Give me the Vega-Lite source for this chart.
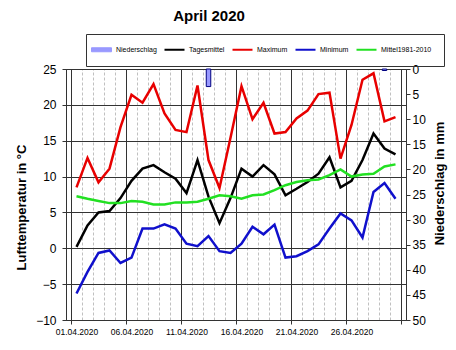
{
  "$schema": "https://vega.github.io/schema/vega-lite/v6.json",
  "width": 340,
  "height": 251,
  "autosize": {"type": "none"},
  "padding": {"left": 66, "top": 69, "right": 50, "bottom": 30},
  "background": "white",
  "title": {
    "text": "April 2020",
    "fontSize": 15,
    "fontWeight": "bold",
    "font": "Liberation Sans",
    "color": "black",
    "anchor": "middle",
    "frame": "group",
    "dx": -27,
    "dy": -6
  },
  "data": {
    "values": [
      {"d": 1, "Niederschlag": 0, "Tagesmittel": 0.2, "Maximum": 8.5, "Minimum": -6.3, "Mittel1981-2010": 7.25},
      {"d": 2, "Niederschlag": 0, "Tagesmittel": 3.2, "Maximum": 12.6, "Minimum": -3.3, "Mittel1981-2010": 6.9},
      {"d": 3, "Niederschlag": 0, "Tagesmittel": 5.0, "Maximum": 9.2, "Minimum": -0.65, "Mittel1981-2010": 6.6},
      {"d": 4, "Niederschlag": 0, "Tagesmittel": 5.2, "Maximum": 11.1, "Minimum": -0.3, "Mittel1981-2010": 6.3},
      {"d": 5, "Niederschlag": 0, "Tagesmittel": 7.0, "Maximum": 16.9, "Minimum": -2.05, "Mittel1981-2010": 6.3},
      {"d": 6, "Niederschlag": 0, "Tagesmittel": 9.4, "Maximum": 21.4, "Minimum": -1.3, "Mittel1981-2010": 6.6},
      {"d": 7, "Niederschlag": 0, "Tagesmittel": 11.1, "Maximum": 20.3, "Minimum": 2.75, "Mittel1981-2010": 6.5},
      {"d": 8, "Niederschlag": 0, "Tagesmittel": 11.6, "Maximum": 22.9, "Minimum": 2.75, "Mittel1981-2010": 6.1},
      {"d": 9, "Niederschlag": 0, "Tagesmittel": 10.6, "Maximum": 18.8, "Minimum": 3.35, "Mittel1981-2010": 6.1},
      {"d": 10, "Niederschlag": 0, "Tagesmittel": 9.7, "Maximum": 16.5, "Minimum": 2.75, "Mittel1981-2010": 6.4},
      {"d": 11, "Niederschlag": 0, "Tagesmittel": 7.7, "Maximum": 16.2, "Minimum": 0.65, "Mittel1981-2010": 6.4},
      {"d": 12, "Niederschlag": 0, "Tagesmittel": 12.3, "Maximum": 22.7, "Minimum": 0.3, "Mittel1981-2010": 6.5},
      {"d": 13, "Niederschlag": 3.5, "Tagesmittel": 7.2, "Maximum": 12.3, "Minimum": 1.7, "Mittel1981-2010": 6.9},
      {"d": 14, "Niederschlag": 0, "Tagesmittel": 3.5, "Maximum": 8.4, "Minimum": -0.4, "Mittel1981-2010": 7.4},
      {"d": 15, "Niederschlag": 0, "Tagesmittel": 7.0, "Maximum": 15.4, "Minimum": -0.65, "Mittel1981-2010": 7.25},
      {"d": 16, "Niederschlag": 0, "Tagesmittel": 11.1, "Maximum": 22.6, "Minimum": 0.65, "Mittel1981-2010": 6.9},
      {"d": 17, "Niederschlag": 0, "Tagesmittel": 10.0, "Maximum": 18.0, "Minimum": 3.0, "Mittel1981-2010": 7.4},
      {"d": 18, "Niederschlag": 0, "Tagesmittel": 11.6, "Maximum": 20.3, "Minimum": 1.95, "Mittel1981-2010": 7.5},
      {"d": 19, "Niederschlag": 0, "Tagesmittel": 10.3, "Maximum": 16.0, "Minimum": 3.3, "Mittel1981-2010": 8.1},
      {"d": 20, "Niederschlag": 0, "Tagesmittel": 7.4, "Maximum": 16.2, "Minimum": -1.3, "Mittel1981-2010": 8.8},
      {"d": 21, "Niederschlag": 0, "Tagesmittel": 8.3, "Maximum": 18.1, "Minimum": -1.1, "Mittel1981-2010": 9.25},
      {"d": 22, "Niederschlag": 0, "Tagesmittel": 9.25, "Maximum": 19.2, "Minimum": -0.4, "Mittel1981-2010": 9.5},
      {"d": 23, "Niederschlag": 0, "Tagesmittel": 10.4, "Maximum": 21.5, "Minimum": 0.55, "Mittel1981-2010": 9.6},
      {"d": 24, "Niederschlag": 0, "Tagesmittel": 12.7, "Maximum": 21.7, "Minimum": 2.75, "Mittel1981-2010": 10.2},
      {"d": 25, "Niederschlag": 0, "Tagesmittel": 8.5, "Maximum": 12.5, "Minimum": 4.85, "Mittel1981-2010": 11.0},
      {"d": 26, "Niederschlag": 0, "Tagesmittel": 9.4, "Maximum": 17.2, "Minimum": 3.9, "Mittel1981-2010": 10.0},
      {"d": 27, "Niederschlag": 0, "Tagesmittel": 12.3, "Maximum": 23.5, "Minimum": 1.5, "Mittel1981-2010": 10.3},
      {"d": 28, "Niederschlag": 0, "Tagesmittel": 16.0, "Maximum": 24.4, "Minimum": 7.85, "Mittel1981-2010": 10.4},
      {"d": 29, "Niederschlag": 0.3, "Tagesmittel": 13.9, "Maximum": 17.7, "Minimum": 9.1, "Mittel1981-2010": 11.4},
      {"d": 30, "Niederschlag": 0, "Tagesmittel": 13.1, "Maximum": 18.3, "Minimum": 6.9, "Mittel1981-2010": 11.7}
    ]
  },
  "encoding": {
    "x": {
      "field": "d",
      "type": "quantitative",
      "scale": {"domain": [0.5, 30.5], "nice": false, "zero": false},
      "axis": {
        "title": null,
        "values": [0.5, 1, 1.5, 2.5, 3.5, 4.5, 5.5, 6, 6.5, 7.5, 8.5, 9.5, 10.5, 11, 11.5, 12.5, 13.5, 14.5, 15.5, 16, 16.5, 17.5, 18.5, 19.5, 20.5, 21, 21.5, 22.5, 23.5, 24.5, 25.5, 26, 26.5, 27.5, 28.5, 29.5, 30.5],
        "labelExpr": "datum.value % 1 == 0 ? ((datum.value < 10 ? '0' : '') + datum.value + '.04.2020') : ''",
        "labelOverlap": false,
        "labelFontSize": 8.5,
        "labelFont": "Liberation Sans",
        "labelColor": "black",
        "labelPadding": 3,
        "labelFlush": false,
        "grid": true,
        "gridColor": {"condition": {"test": "datum.value % 5 == 0.5", "value": "#333333"}, "value": "#c0c0c0"},
        "gridDash": {"condition": {"test": "datum.value % 5 == 0.5", "value": []}, "value": [3, 2]},
        "gridOpacity": {"condition": {"test": "datum.value % 1 == 0", "value": 0}, "value": 1},
        "tickColor": "#333333",
        "tickOpacity": {"condition": {"test": "datum.value % 5 == 0.5", "value": 1}, "value": 0},
        "tickSize": 4,
        "domainColor": "#333333"
      }
    }
  },
  "layer": [
    {
      "transform": [{"filter": "datum.Niederschlag > 0"}],
      "mark": {"type": "bar", "size": 4.5, "stroke": "#000080", "strokeWidth": 1},
      "encoding": {
        "y": {
          "field": "Niederschlag",
          "type": "quantitative",
          "scale": {"domain": [0, 50], "reverse": true, "nice": false},
          "axis": {
            "orient": "right",
            "values": [0, 5, 10, 15, 20, 25, 30, 35, 40, 45, 50],
            "grid": false,
            "title": "Niederschlag in mm",
            "titleFontSize": 13,
            "titleFont": "Liberation Sans",
            "titleFontWeight": "bold",
            "titleColor": "black",
            "titleAngle": 270,
            "titleAlign": "center",
            "titleBaseline": "middle",
            "titleX": 33,
            "titleY": 114,
            "labelFontSize": 12,
            "labelFont": "Liberation Sans",
            "labelColor": "black",
            "labelPadding": 2,
            "tickSize": 4,
            "tickColor": "#333333",
            "domainColor": "#333333"
          }
        },
        "color": {"datum": "Niederschlag"}
      }
    },
    {
      "transform": [{"fold": ["Tagesmittel", "Maximum", "Minimum", "Mittel1981-2010"], "as": ["Reihe", "Wert"]}],
      "mark": {"type": "line", "strokeWidth": 2.5},
      "encoding": {
        "y": {
          "field": "Wert",
          "type": "quantitative",
          "scale": {"domain": [-10, 25], "nice": false},
          "axis": {
            "orient": "left",
            "values": [-10, -5, 0, 5, 10, 15, 20, 25],
            "grid": true,
            "gridColor": "#333333",
            "title": "Lufttemperatur in °C",
            "titleFontSize": 13,
            "titleFont": "Liberation Sans",
            "titleFontWeight": "bold",
            "titleColor": "black",
            "titleAngle": 270,
            "titleAlign": "center",
            "titleBaseline": "middle",
            "titleX": -45,
            "titleY": 138,
            "labelFontSize": 12,
            "labelFont": "Liberation Sans",
            "labelColor": "black",
            "labelPadding": 6,
            "tickSize": 4,
            "tickColor": "#333333",
            "domainColor": "#333333"
          }
        },
        "color": {
          "field": "Reihe",
          "type": "nominal",
          "scale": {
            "domain": ["Niederschlag", "Tagesmittel", "Maximum", "Minimum", "Mittel1981-2010"],
            "range": ["#9999ff", "#000000", "#e80000", "#1010cc", "#22e022"]
          },
          "legend": {
            "title": null,
            "orient": "none",
            "legendX": 20,
            "legendY": -35,
            "direction": "horizontal",
            "strokeColor": "#333333",
            "padding": 12,
            "labelFontSize": 7,
            "labelFont": "Liberation Sans",
            "labelColor": "black",
            "labelOffset": 11,
            "columnPadding": 3,
            "symbolType": "stroke",
            "symbolSize": 400,
            "symbolStrokeWidth": 2,
            "encode": {
              "symbols": {
                "update": {
                  "shape": {"signal": "datum.value === 'Niederschlag' ? 'M-1,-0.2H1V0.2H-1Z' : 'stroke'"},
                  "fill": {"signal": "datum.value === 'Niederschlag' ? '#9999ff' : 'transparent'"},
                  "stroke": {"signal": "datum.value === 'Niederschlag' ? '#000080' : scale('color', datum.value)"},
                  "strokeWidth": {"signal": "datum.value === 'Niederschlag' ? 1 : 2"},
                  "opacity": {"value": 1}
                }
              }
            }
          }
        },
        "detail": {"field": "Reihe"}
      }
    }
  ],
  "resolve": {"scale": {"y": "independent"}},
  "config": {
    "view": {"stroke": "#333333"}
  }
}
